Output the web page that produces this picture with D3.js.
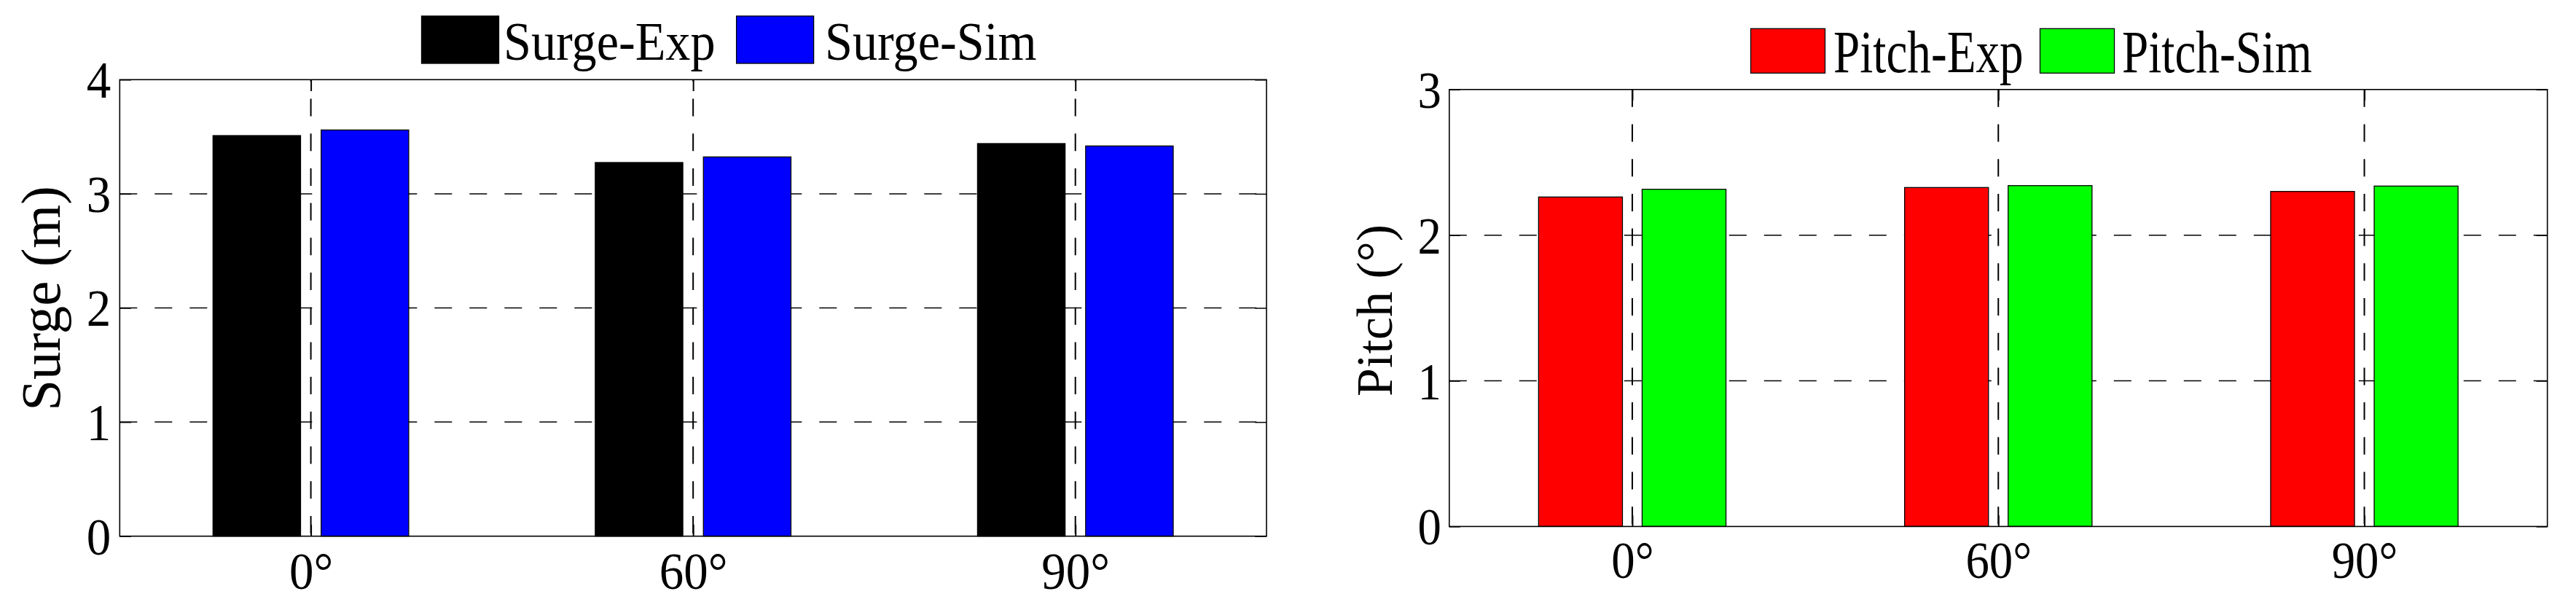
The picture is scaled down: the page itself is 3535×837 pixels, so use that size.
<!DOCTYPE html>
<html>
<head>
<meta charset="utf-8">
<script src="https://cdn.jsdelivr.net/npm/d3@7"></script>
<style>
  html, body { margin: 0; padding: 0; background: #fff; }
  svg { display: block; }
  svg text { font-family: "Liberation Serif", "Times New Roman", serif !important; fill: #000; }
</style>
</head>
<body>
<svg id="chart" width="3535" height="837"></svg>
<script>
// ---------------- data ----------------
const categories = ["0°", "60°", "90°"];
const surgeExp = [3.51, 3.274, 3.44];
const surgeSim = [3.559, 3.323, 3.419];
const pitchExp = [2.262, 2.327, 2.30];
const pitchSim = [2.315, 2.34, 2.337];
const surgeTicks = [0, 1, 2, 3, 4];
const pitchTicks = [0, 1, 2, 3];
const surgeNames = ["Surge-Exp", "Surge-Sim"];
const pitchNames = ["Pitch-Exp", "Pitch-Sim"];
const surgeColors = ["#000000", "#0000ff"];
const pitchColors = ["#ff0000", "#00ff00"];
const surgeLabel = "Surge (m)";
const pitchLabel = "Pitch (°)";

// ---------------- layout ----------------
const FONT = '"Liberation Serif", "Times New Roman", serif';
const svg = d3.select("#chart");
svg.append("rect").attr("width", 3535).attr("height", 837).attr("fill", "#fff");

const panels = [
  {
    left: 164.3, top: 109.3, right: 1738, bottom: 735.7,
    yMax: 4, ticks: surgeTicks, series: [surgeExp, surgeSim], names: surgeNames, colors: surgeColors,
    yLabel: surgeLabel, yLabelX: 82, yLabelY: 409.5, yLabelSize: 77,
    tickFont: 72, tickSx: 0.93, tickPad: 12, xPad: 21,
    legend: { boxX: [578.5, 1010.6], boxW: 106, boxY: 22, boxH: 65, textX: [691, 1132], base: 81.7, size: 75, sx: 0.91 },
    vDashOffset: 21.5
  },
  {
    left: 1988.8, top: 122.8, right: 3495.7, bottom: 722.4,
    yMax: 3, ticks: pitchTicks, series: [pitchExp, pitchSim], names: pitchNames, colors: pitchColors,
    yLabel: pitchLabel, yLabelX: 1910, yLabelY: 426, yLabelSize: 70,
    tickFont: 72, tickSx: 0.9, tickPad: 11, xPad: 19.6,
    legend: { boxX: [2402.5, 2799.5], boxW: 102, boxY: 39.3, boxH: 61, textX: [2516, 2912], base: 99.3, size: 83, sx: 0.785 },
    vDashOffset: 0
  }
];

panels.forEach(p => {
  const g = svg.append("g");
  const w = p.right - p.left, h = p.bottom - p.top;
  const tickLen = 0.01 * Math.max(w, h);

  const x0 = d3.scaleBand().domain(categories).range([p.left, p.right]).paddingInner(0).paddingOuter(0);
  const half = 0.256 * x0.bandwidth();
  const x1 = d3.scaleBand().domain(d3.range(p.series.length)).range([-half, half]).paddingInner(0.19).paddingOuter(0);
  const y = d3.scaleLinear().domain([0, p.yMax]).range([p.bottom, p.top]);
  const center = d3.scalePoint().domain(categories).range([p.left + x0.bandwidth() / 2, p.right - x0.bandwidth() / 2]);

  // grid lines (behind bars)
  const grid = g.append("g").attr("stroke", "#000").attr("stroke-width", 1.5).attr("fill", "none");
  grid.selectAll("line.h").data(p.ticks.filter(t => t > 0 && t < p.yMax)).join("line")
    .attr("x1", p.left).attr("x2", p.right)
    .attr("y1", d => y(d)).attr("y2", d => y(d))
    .attr("stroke-dasharray", "24,24");
  grid.selectAll("line.v").data(categories).join("line")
    .attr("x1", d => center(d)).attr("x2", d => center(d))
    .attr("y1", p.top).attr("y2", p.bottom)
    .attr("stroke-width", 2)
    .attr("stroke-dasharray", "24,23.7")
    .attr("stroke-dashoffset", p.vDashOffset);

  // bars
  p.series.forEach((vals, si) => {
    g.append("g").selectAll("rect").data(vals).join("rect")
      .attr("x", (d, i) => center(categories[i]) + x1(si))
      .attr("width", x1.bandwidth())
      .attr("y", d => y(d))
      .attr("height", d => y(0) - y(d))
      .attr("fill", p.colors[si])
      .attr("stroke", "#000")
      .attr("stroke-width", 1.3);
  });

  // axes: ticks inward
  const yAxisL = d3.axisLeft(y).tickValues(p.ticks).tickSize(-tickLen).tickSizeOuter(0).tickPadding(p.tickPad).tickFormat(d3.format("d"));
  const gl = g.append("g").attr("transform", `translate(${p.left},0)`).call(yAxisL)
    .attr("font-family", FONT).attr("font-size", p.tickFont);
  gl.select(".domain").remove();
  gl.selectAll("line").attr("stroke", "#000").attr("stroke-width", 1.5);
  gl.selectAll("text")
    .attr("font-family", FONT).attr("font-size", p.tickFont)
    .attr("x", -p.tickPad / p.tickSx).attr("dy", "0.34em")
    .attr("transform", `scale(${p.tickSx},1)`);

  const yAxisR = d3.axisRight(y).tickValues(p.ticks).tickSize(-tickLen).tickSizeOuter(0).tickFormat("");
  const gr = g.append("g").attr("transform", `translate(${p.right},0)`).call(yAxisR);
  gr.select(".domain").remove();
  gr.selectAll("line").attr("stroke", "#000").attr("stroke-width", 1.5);

  const xAxisB = d3.axisBottom(center).tickSize(-tickLen).tickSizeOuter(0).tickPadding(p.xPad);
  const gb = g.append("g").attr("transform", `translate(0,${p.bottom})`).call(xAxisB)
    .attr("font-family", FONT).attr("font-size", p.tickFont);
  gb.select(".domain").remove();
  gb.selectAll("line").attr("stroke", "#000").attr("stroke-width", 2);
  gb.selectAll("text").attr("font-family", FONT).attr("font-size", p.tickFont)
    .attr("transform", `scale(${p.tickSx},1)`);

  const xAxisT = d3.axisTop(center).tickSize(-tickLen).tickSizeOuter(0).tickFormat("");
  const gt = g.append("g").attr("transform", `translate(0,${p.top})`).call(xAxisT);
  gt.select(".domain").remove();
  gt.selectAll("line").attr("stroke", "#000").attr("stroke-width", 2);

  // box
  g.append("rect").attr("x", p.left).attr("y", p.top).attr("width", w).attr("height", h)
    .attr("fill", "none").attr("stroke", "#000").attr("stroke-width", 1.6);

  // y label
  g.append("text")
    .attr("transform", `translate(${p.yLabelX},${p.yLabelY}) rotate(-90)`)
    .attr("text-anchor", "middle")
    .attr("font-family", FONT)
    .attr("font-size", p.yLabelSize)
    .text(p.yLabel);

  // legend
  const L = p.legend;
  p.names.forEach((name, i) => {
    g.append("rect").attr("x", L.boxX[i]).attr("y", L.boxY).attr("width", L.boxW).attr("height", L.boxH)
      .attr("fill", p.colors[i]).attr("stroke", "#000").attr("stroke-width", 1.3);
    g.append("text")
      .attr("transform", `translate(${L.textX[i]},${L.base}) scale(${L.sx},1)`)
      .attr("font-family", FONT)
      .attr("font-size", L.size)
      .text(name);
  });
});
</script>
</body>
</html>
